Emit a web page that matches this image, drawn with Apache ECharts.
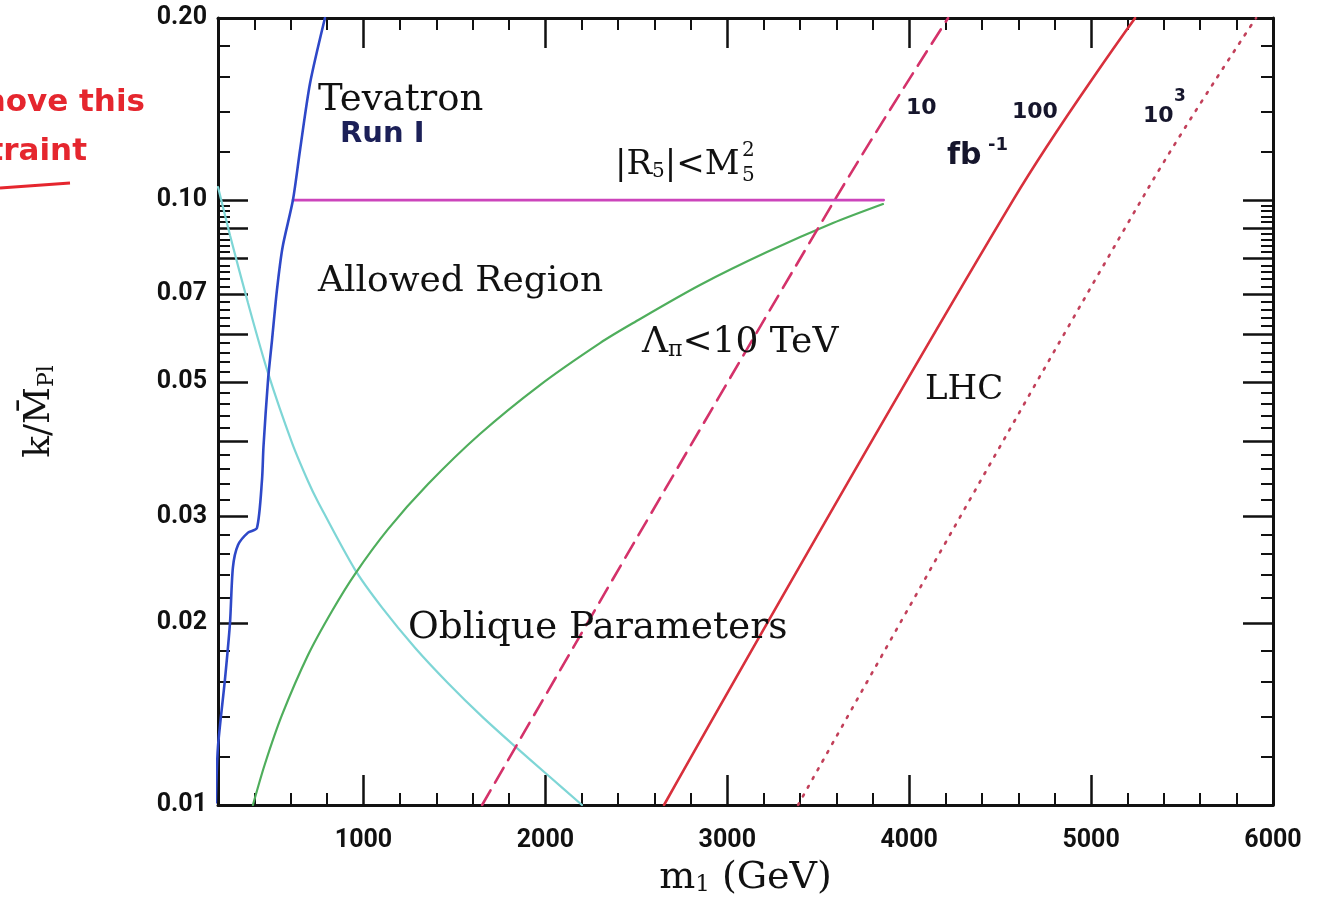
<!DOCTYPE html>
<html><head><meta charset="utf-8">
<script src="https://cdn.jsdelivr.net/npm/echarts@6/dist/echarts.min.js"></script>
<style>html,body{margin:0;padding:0;background:#fff}#c{width:1323px;height:907px}</style>
</head><body><div id="c"></div>
<script>
// ---------------- data (m1 in GeV, k/Mpl) ----------------
const tevatronRunI = [[188,0.0101],[200,0.0125],[238,0.0161],[266,0.0200],[282,0.0247],[310,0.0269],[365,0.0282],[414,0.0287],[442,0.0345],[450,0.0391],[475,0.0504],[497,0.0587],[524,0.0710],[555,0.0836],[612,0.100],[651,0.121],[706,0.156],[788,0.200]];
const obliqueParams = [[200,0.1051],[266,0.0875],[365,0.0676],[475,0.0518],[607,0.0397],[695,0.0343],[750,0.0317],[953,0.0245],[1102,0.0212],[1283,0.0182],[1465,0.0159],[1652,0.0140],[1833,0.0125],[2014,0.0112],[2201,0.0100]];
const lambdaPi10TeV = [[392,0.0100],[458,0.01169],[552,0.01409],[695,0.0177],[827,0.02093],[953,0.02409],[1135,0.02858],[1355,0.03393],[1640,0.04105],[1970,0.04946],[2300,0.05802],[2482,0.06262],[2850,0.07237],[3218,0.08204],[3581,0.09162],[3856,0.0985]];
const r5Bound = [[612,0.100],[3860,0.100]];
const lhc10fb = [[1652,0.0100],[3581,0.0989],[4214,0.200]];
const lhc100fb = [[2652,0.0100],[4571,0.100],[5242,0.200]];
const lhc1000fb = [[3389,0.0100],[5308,0.1039],[5907,0.200]];

// ---------------- axis ticks ----------------
const xMin = 200, xMax = 6000;
const xLabelValues = [1000,2000,3000,4000,5000,6000];
const xMajorTicks = [1000,2000,3000,4000,5000];
const xMinorTicks = [400,600,800,1200,1400,1600,1800,2200,2400,2600,2800,3200,3400,3600,3800,4200,4400,4600,4800,5200,5400,5600,5800];
const yMin = 0.01, yMax = 0.2;
const yLabelValues = [0.01,0.02,0.03,0.05,0.07,0.10,0.20];
const yMajorTicks = [0.02,0.03,0.04,0.05,0.06,0.07,0.08,0.09,0.10];
const yMinorTicks = [0.012,0.014,0.016,0.018,0.022,0.024,0.026,0.028,0.032,0.034,0.036,0.038,0.042,0.044,0.046,0.048,0.052,0.054,0.056,0.058,0.062,0.064,0.066,0.068,0.072,0.074,0.076,0.078,0.082,0.084,0.086,0.088,0.092,0.094,0.096,0.098,0.12,0.14,0.16,0.18];

const serif = "'DejaVu Serif', serif";
const sans = "'DejaVu Sans', sans-serif";
const tickFont = "Roboto, 'DejaVu Sans', sans-serif";
const ink = '#111';
function richSerif(size){
  return {
    n:{fontFamily:serif,fontSize:size,color:ink,lineHeight:size},
    s:{fontFamily:serif,fontSize:Math.round(size*0.6),color:ink,lineHeight:Math.round(size*0.38),verticalAlign:'bottom'}
  };
}

function xAx(pos, ticks, len, main){
  return {
    type:'value', min:xMin, max:xMax, position:pos,
    splitLine:{show:false},
    axisLine:{show:main, onZero:false, lineStyle:{color:ink,width:3}},
    axisTick:{show:true, inside:true, length:len, customValues:ticks, lineStyle:{color:ink,width:len>20?2.5:2}},
    axisLabel:{show:false}
  };
}
function yAx(pos, ticks, len, main){
  return {
    type:'log', logBase:10, min:yMin, max:yMax, position:pos,
    splitLine:{show:false}, minorSplitLine:{show:false},
    axisLine:{show:main, onZero:false, lineStyle:{color:ink,width:3}},
    axisTick:{show:true, inside:true, length:len, customValues:ticks, lineStyle:{color:ink,width:len>20?2.5:2}},
    axisLabel:{show:false}
  };
}

const xBottom = xAx('bottom', xMajorTicks, 30, true);
xBottom.axisLabel = {show:true, customValues:xLabelValues, margin:23, fontFamily:tickFont, fontWeight:'bold', fontSize:25, color:ink,
  formatter:function(v){return String(Math.round(v));}};
xBottom.name = '{n|m}{s|1}{n| (GeV)}';
xBottom.nameLocation = 'middle';
xBottom.nameGap = 54;
xBottom.nameTextStyle = {rich:richSerif(38)};

const yLeft = yAx('left', yMajorTicks, 30, true);
yLeft.axisLabel = {show:true, customValues:yLabelValues, margin:11, fontFamily:tickFont, fontWeight:'bold', fontSize:25, color:ink,
  formatter:function(v){return Number(v).toFixed(2);}};
yLeft.name = '{n|k/M\u0304}{s|Pl}';
yLeft.nameLocation = 'middle';
yLeft.nameRotate = 90;
yLeft.nameGap = 160;
yLeft.nameTextStyle = {rich:richSerif(36)};

function line(data, color, width, type, z, smooth){
  return {type:'line', data:data, xAxisIndex:0, yAxisIndex:0, symbol:'none', smooth:smooth==null?0.3:smooth, clip:true,
    lineStyle:{color:color, width:width, type:type||'solid', cap:'round'}, z:z||2, silent:true};
}

function txt(x,y,text,opt){
  return {type:'text', x:x, y:y, z:50, silent:true,
    style:Object.assign({text:text, fill:ink, align:'left', verticalAlign:'middle'}, opt||{})};
}
const hand = {fontFamily:sans, fontWeight:'bold', fontSize:22, fill:'#16162c'};
const red = {fontFamily:sans, fontWeight:'bold', fontSize:31, fill:'#e5262e', align:'right'};

const option = {
  animation:false,
  backgroundColor:'#fff',
  grid:{left:218, right:50, top:18, bottom:102, containLabel:false, outerBoundsMode:'none'},
  xAxis:[xBottom, xAx('bottom', xMinorTicks, 12, false), xAx('top', xMajorTicks, 30, true), xAx('top', xMinorTicks, 12, false)],
  yAxis:[yLeft, yAx('left', yMinorTicks, 12, false), yAx('right', yMajorTicks, 30, true), yAx('right', yMinorTicks, 12, false)],
  series:[
    line(obliqueParams, '#7ed6d6', 2.2, 'solid', 2, 0.3),
    line(lambdaPi10TeV, '#4fae5c', 2.2, 'solid', 2, 0.3),
    line(tevatronRunI, '#2e48c8', 2.6, 'solid', 4, 0.25),
    line(r5Bound, '#cc44bb', 2.6, 'solid', 3, 0),
    line(lhc10fb, '#d4326a', 2.6, [17,9], 2, 0.4),
    line(lhc100fb, '#d8303c', 2.6, 'solid', 2, 0.4),
    line(lhc1000fb, '#c2405a', 2.6, [2,8], 2, 0.4)
  ],
  graphic:[
    txt(318,100,'Tevatron',{fontFamily:serif,fontSize:37}),
    txt(340,134,'Run I',Object.assign({},hand,{fontSize:29,fill:'#1c2058'})),
    txt(615,165,'{n||R}{s|5}{n||<M}',{rich:richSerif(34)}),
    txt(742,151,'2',{fontFamily:serif,fontSize:20}),
    txt(742,176,'5',{fontFamily:serif,fontSize:20}),
    txt(318,282,'Allowed Region',{fontFamily:serif,fontSize:36}),
    txt(642,343,'{n|\u039b}{s|\u03c0}{n|<10 TeV}',{rich:richSerif(36)}),
    txt(925,390,'LHC',{fontFamily:serif,fontSize:34}),
    txt(408,628,'Oblique Parameters',{fontFamily:serif,fontSize:37.5}),
    txt(906,108,'10',hand),
    txt(1012,112,'100',hand),
    txt(1143,116,'10',hand),
    txt(1174,97,'3',Object.assign({},hand,{fontSize:17})),
    txt(947,156,'fb',Object.assign({},hand,{fontSize:30})),
    txt(988,145,'-1',Object.assign({},hand,{fontSize:18})),
    txt(145,103,'Remove this',red),
    txt(87,152,'constraint',red),
    {type:'polyline', z:50, silent:true, shape:{points:[[0,188],[70,183]]}, style:{stroke:'#e5262e', lineWidth:3, fill:null}}
  ]
};
const chart = echarts.init(document.getElementById('c'));
chart.setOption(option);
</script>
</body></html>
